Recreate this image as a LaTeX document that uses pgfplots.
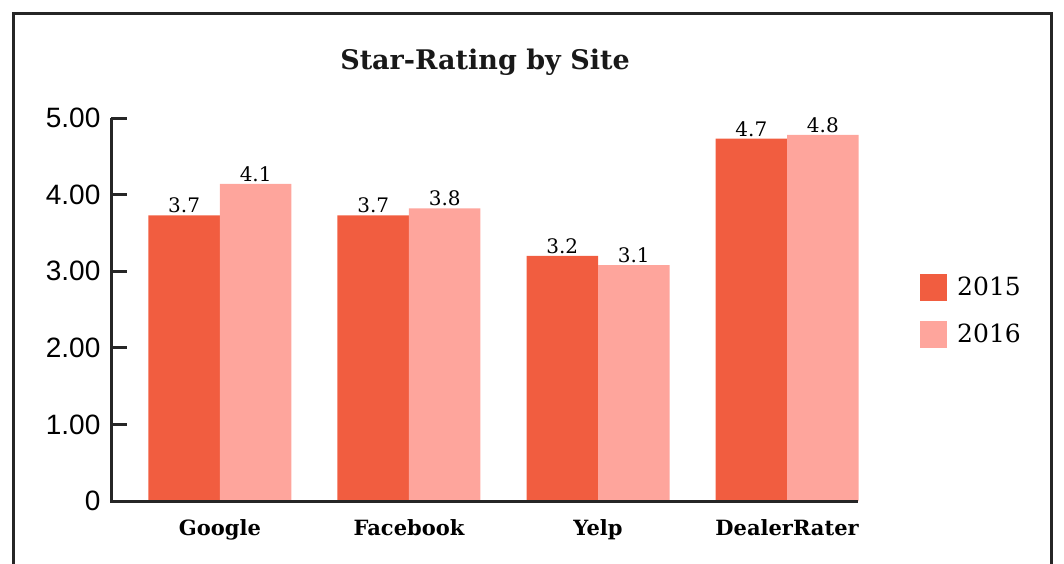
\documentclass[border=0pt]{standalone}
\usepackage{pgfplots}
\pgfplotsset{compat=1.18}
\usepackage{fontspec}
\setmainfont{DejaVu Serif}
\newfontfamily\sansf{Liberation Sans}
\definecolor{cA}{HTML}{F15D40}
\definecolor{cB}{HTML}{FEA59C}
\begin{document}
\begin{tikzpicture}[x=1pt,y=1pt]
\path[use as bounding box] (0,0) rectangle (1064,563);
\draw[line width=3pt,black!85] (13,-10) -- (13,549) -- (1051,549) -- (1051,-10);
\node[font=\fontsize{27}{30}\selectfont\bfseries, text=black!90] at (485,501) {Star-Rating by Site};
\begin{axis}[
  at={(111pt,62pt)}, anchor=south west,
  scale only axis, width=747pt, height=383pt,
  xmin=-0.576, xmax=3.375, ymin=0, ymax=5,
  ybar=0pt, bar width=71.5pt,
  axis x line=bottom, axis y line=left,
  axis line style={draw=none},
  clip=false,
  xtick={0,1,2,3}, xticklabels={Google,Facebook,Yelp,DealerRater},
  xtick style={draw=none},
  xticklabel style={font=\fontsize{21}{23}\selectfont\bfseries, yshift=-13pt},
  ytick={0,1,2,3,4,5}, yticklabels={0,1.00,2.00,3.00,4.00,5.00},
  ytick style={draw=none},
  yticklabel style={font=\fontsize{28}{30}\selectfont\sansf, xshift=-5pt},
  /pgf/number format/assume math mode=true,
  nodes near coords,
  nodes near coords style={font=\fontsize{20}{22}\selectfont, /pgf/number format/fixed, /pgf/number format/precision=1, /pgf/number format/fixed zerofill, inner sep=2pt},
  legend style={draw=none, fill=none, at={(1.083,0.497)}, anchor=west, inner sep=0pt,
    font=\fontsize{25}{27}\selectfont, row sep=20pt,
    nodes={inner sep=0pt, anchor=west}},
  legend image code/.code={\fill[#1, draw=none] (0pt,-13.5pt) rectangle (27pt,13.5pt); \path (37pt,0pt);},
  legend cell align=left,
]
\addplot[fill=cA, draw=none] coordinates {(0,3.73) (1,3.73) (2,3.2) (3,4.73)};
\addplot[fill=cB, draw=none] coordinates {(0,4.14) (1,3.82) (2,3.08) (3,4.78)};
\legend{2015,2016}
\draw[line width=3pt, black!85] (rel axis cs:0,1) -- (rel axis cs:0,0) -- (rel axis cs:1,0);
\pgfplotsinvokeforeach{1,2,3,4,5}{\draw[line width=3pt, black!85] (rel axis cs:0,#1/5) -- ++(16pt,0pt);}
\end{axis}
\end{tikzpicture}
\end{document}
